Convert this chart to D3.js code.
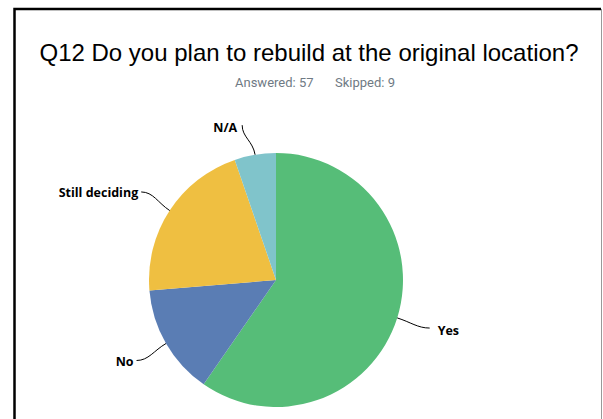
<!DOCTYPE html>
<html>
<head>
<meta charset="utf-8">
<script src="https://cdn.jsdelivr.net/npm/d3@7"></script>
<style>
  body { margin: 0; background: #fff; }
  svg { display: block; }
</style>
</head>
<body>
<div id="chart"></div>
<script>
var categories = ['Yes', 'No', 'Still deciding', 'N/A'];
var counts = [34, 8, 12, 3];
var colors = ['#56bd78', '#5a7db4', '#efbf41', '#80c4cb'];
var titleText = 'Q12 Do you plan to rebuild at the original location?';
var answered = 57, skipped = 9;

var W = 603, H = 419;
var cx = 276, cy = 280, R = 127;

var svg = d3.select('#chart').append('svg')
    .attr('width', W).attr('height', H);

// frame
svg.append('path')
    .attr('d', 'M14.5,' + H + 'V9H601')
    .attr('fill', 'none').attr('stroke', '#000').attr('stroke-width', 2.5);
svg.append('line')
    .attr('x1', 601.5).attr('x2', 601.5).attr('y1', 9).attr('y2', H)
    .attr('stroke', '#999').attr('stroke-width', 1);

svg.append('text')
    .attr('x', 309).attr('y', 61)
    .attr('text-anchor', 'middle')
    .style('font-family', 'Liberation Sans, Arial, sans-serif')
    .style('font-size', '24px')
    .attr('fill', '#000')
    .text(titleText);

var sub = svg.append('text')
    .attr('y', 87)
    .style('font-family', 'Roboto, sans-serif')
    .style('font-size', '13px')
    .attr('fill', '#6f7a84');
sub.append('tspan').attr('x', 235).text('Answered: ' + answered);
sub.append('tspan').attr('x', 335).text('Skipped: ' + skipped);

var pie = d3.pie().sort(null).value(function(d) { return d; });
var arcs = pie(counts);
var arc = d3.arc().innerRadius(0).outerRadius(R);

var g = svg.append('g').attr('transform', 'translate(' + cx + ',' + cy + ')');

g.selectAll('path.slice')
  .data(arcs)
  .enter().append('path')
    .attr('class', 'slice')
    .attr('d', arc)
    .attr('fill', function(d, i) { return colors[i]; });

// leader lines + labels
arcs.forEach(function(d, i) {
  var a = (d.startAngle + d.endAngle) / 2;
  var ux = Math.sin(a), uy = -Math.cos(a);
  var vertical = Math.abs(ux) < 0.3;
  var len = vertical ? 30 : 34;
  var p0 = [ux * R, uy * R];
  var p3 = [ux * (R + len), uy * (R + len)];
  if (vertical) p3[0] -= 8;
  var p1 = [ux * (R + 14), uy * (R + 14)];
  var p2 = vertical ? [p3[0], p3[1] + 12] : [p3[0] - Math.sign(ux) * 12, p3[1]];
  g.append('path')
    .attr('d', 'M' + p0 + 'C' + p1 + ' ' + p2 + ' ' + p3)
    .attr('fill', 'none').attr('stroke', '#000').attr('stroke-width', 1);

  var t = g.append('text')
    .style('font-family', 'Open Sans, Lato, sans-serif')
    .style('font-weight', 'bold')
    .style('font-size', '12.5px')
    .attr('fill', '#000')
    .text(categories[i]);
  if (vertical) {
    t.attr('x', p3[0] - 5).attr('y', p3[1] + 7).attr('text-anchor', 'end');
  } else if (ux > 0) {
    t.attr('x', p3[0] + 8).attr('y', p3[1] + 7).attr('text-anchor', 'start');
  } else {
    t.attr('x', p3[0] - 3).attr('y', p3[1] + 5).attr('text-anchor', 'end');
  }
});
</script>
</body>
</html>
